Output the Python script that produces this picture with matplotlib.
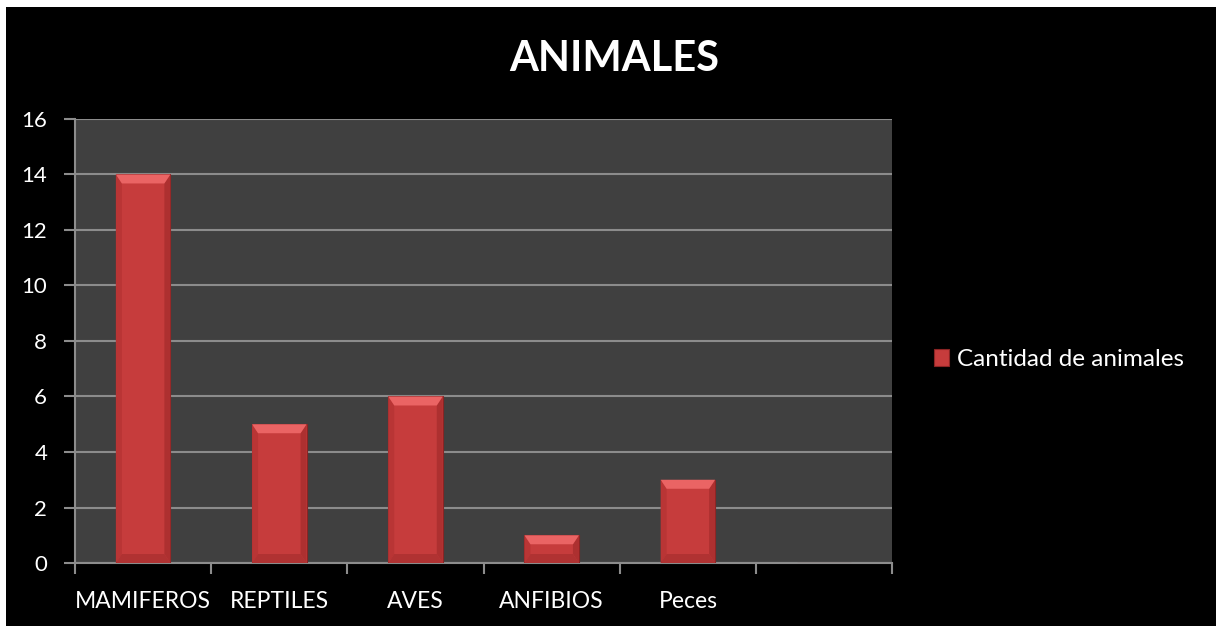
import matplotlib
matplotlib.use("Agg")
import matplotlib.pyplot as plt
from matplotlib.patches import Polygon, Rectangle

categorias = ["MAMIFEROS", "REPTILES", "AVES", "ANFIBIOS", "Peces", ""]
cantidad = [14, 5, 6, 1, 3, None]
serie = "Cantidad de animales"

plt.rcParams["font.family"] = ["Lato", "DejaVu Sans"]

fig = plt.figure(figsize=(12.16, 6.26), dpi=100, facecolor="white")
# black chart area with thin white margin on the top/left
fig.patches.append(Rectangle((6 / 1216, 0), 1, 1 - 7 / 626, transform=fig.transFigure,
                             facecolor="black", edgecolor="none", zorder=-10))

ax = fig.add_axes([0.0617, 0.1006, 0.672, 0.7094])
ax.set_facecolor("#404040")

xs = list(range(len(categorias)))
vals = [v if v is not None else 0 for v in cantidad]
bars = ax.bar(xs, vals, width=0.4, color="#c63c3c", edgecolor="#8a2424",
              linewidth=0.8, zorder=3, label=serie)

ax.set_xlim(-0.5, len(categorias) - 0.5)
ax.set_ylim(0, 16)
ax.set_yticks(range(0, 17, 2))

# bevel effect on each bar, built from the bar geometry
ppx = 16 / (0.7094 * 626)          # data units per pixel (y)
for b, v in zip(bars, cantidad):
    if not v:
        continue
    x0, w, h = b.get_x(), b.get_width(), b.get_height()
    x1 = x0 + w
    bx = w * 0.11
    by = min(9 * ppx, h / 2)
    # left/right sides
    ax.add_patch(Polygon([(x0, 0), (x0 + bx, by), (x0 + bx, h - by), (x0, h)],
                         closed=True, facecolor="#b93535", edgecolor="none", zorder=3.3))
    ax.add_patch(Polygon([(x1, 0), (x1 - bx, by), (x1 - bx, h - by), (x1, h)],
                         closed=True, facecolor="#ad3030", edgecolor="none", zorder=3.3))
    # top and bottom
    ax.add_patch(Polygon([(x0, h), (x0 + bx, h - by), (x1 - bx, h - by), (x1, h)],
                         closed=True, facecolor="#ea6464", edgecolor="none", zorder=3.4))
    ax.add_patch(Polygon([(x0, 0), (x0 + bx, by), (x1 - bx, by), (x1, 0)],
                         closed=True, facecolor="#b03232", edgecolor="none", zorder=3.4))

ax.grid(axis="y", color="#8c8c8c", linewidth=1.5, zorder=1)
ax.set_axisbelow(True)

for s in ["top", "right"]:
    ax.spines[s].set_visible(False)
for s in ["left", "bottom"]:
    ax.spines[s].set_color("#8c8c8c")
    ax.spines[s].set_linewidth(1.5)

# category labels centred, ticks on the category boundaries
ax.set_xticks(xs)
ax.set_xticklabels(categorias)
ax.tick_params(axis="x", length=0, pad=20, labelsize=16.5, labelcolor="white")
ax.set_xticks([i - 0.5 for i in range(len(categorias) + 1)], minor=True)
ax.tick_params(axis="x", which="minor", length=8, width=1.5, color="#8c8c8c", direction="out")
ax.tick_params(axis="y", length=8, width=1.5, color="#8c8c8c", pad=12,
               labelsize=16, labelcolor="white")

fig.text(0.505, 0.905, "ANIMALES", ha="center", va="center", color="white",
         fontsize=30, fontweight="bold")

leg = ax.legend(loc="center left", bbox_to_anchor=(1.024, 0.458), frameon=False,
                fontsize=17.5, labelcolor="white", handlelength=0.65, handleheight=0.65,
                handletextpad=0.3)

fig.savefig("out.png", dpi=100, facecolor=fig.get_facecolor())
